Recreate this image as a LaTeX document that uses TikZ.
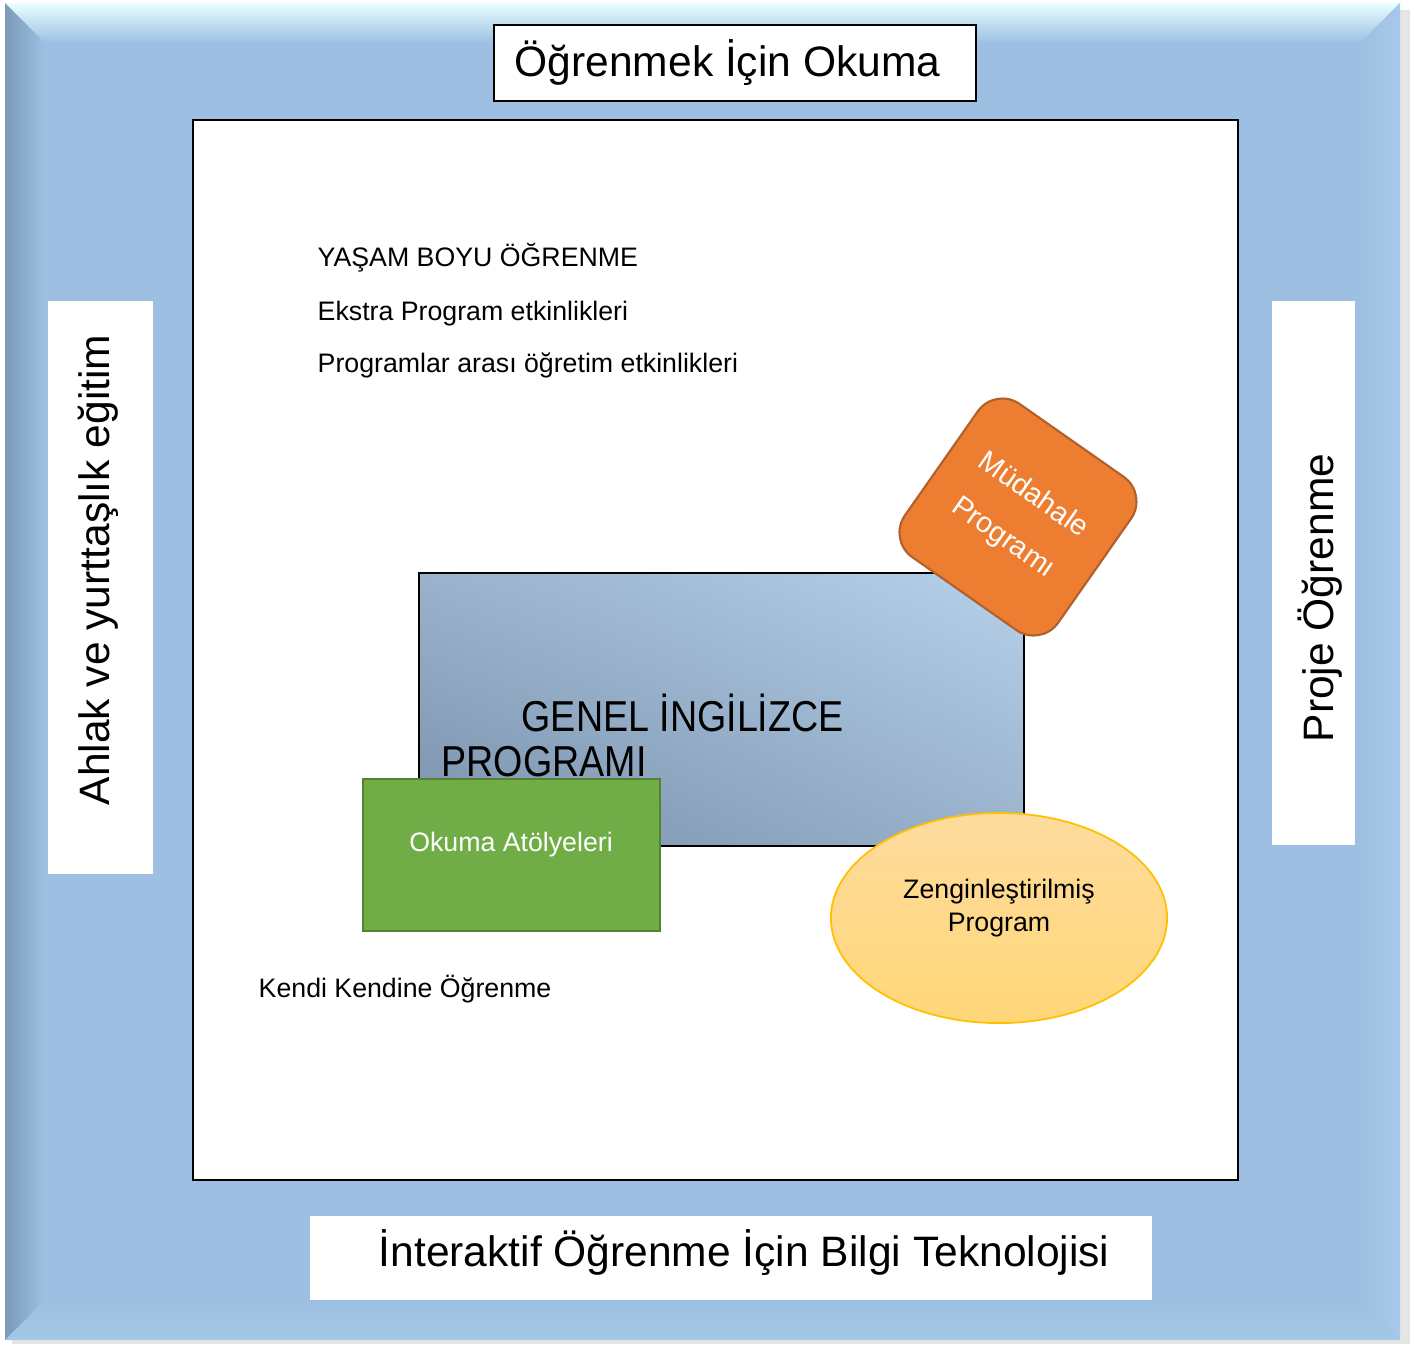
\documentclass[tikz,border=0pt]{standalone}
\usepackage{fontspec}
\setmainfont{Liberation Sans}
\newfontfamily\narrowsans[FakeStretch=0.87]{Liberation Sans}
\usetikzlibrary{shapes.geometric,shadings}
\definecolor{framebl}{HTML}{9DC0E2}
\definecolor{topbev}{HTML}{E8FFFF}
\definecolor{leftbev}{HTML}{7B99B8}
\definecolor{rightbev}{HTML}{A6C9E9}
\definecolor{botbev}{HTML}{A4C7E8}
\definecolor{genellight}{HTML}{B6D1EB}
\definecolor{genelmid}{HTML}{9AB2CB}
\definecolor{geneldark}{HTML}{7890AA}
\definecolor{orangefill}{HTML}{ED7D31}
\definecolor{orangeline}{HTML}{B0602A}
\definecolor{greenfill}{HTML}{70AD47}
\definecolor{greenline}{HTML}{548235}
\definecolor{ellipsetop}{HTML}{FDDB9D}
\definecolor{ellipsebot}{HTML}{FFD778}
\definecolor{ellipseline}{HTML}{FFC000}
\begin{document}
\begin{tikzpicture}[x=0.01cm,y=-0.01cm,
    bigtext/.style={font=\fontsize{12.1}{14.5}\selectfont, inner sep=0pt},
    smalltext/.style={font=\fontsize{7.6}{9.4}\selectfont, inner sep=0pt},
    whitebox/.style={fill=white, inner sep=0pt}]
    \useasboundingbox (0,0) rectangle (1414,1344);
    %Frame%
    \fill[black!10] (12,10) rectangle (1410,1344);
    \fill[framebl] (5,3) rectangle (1400,1340);
    \shade[top color=topbev, bottom color=framebl] (5,3) -- (1400,3) -- (1360,43) -- (45,43) -- cycle;
    \shade[left color=leftbev, right color=framebl] (5,3) -- (45,43) -- (45,1300) -- (5,1340) -- cycle;
    \shade[left color=framebl, right color=rightbev] (1360,43) -- (1400,3) -- (1400,1340) -- (1360,1300) -- cycle;
    \shade[top color=framebl, bottom color=botbev] (45,1300) -- (1360,1300) -- (1400,1340) -- (5,1340) -- cycle;
    \draw[fill=white, line width=0.5pt] (193,120) rectangle (1238,1180);

    % Side boxes %
    \node[whitebox, draw=black, line width=0.5pt, minimum width=4.82cm, minimum height=0.76cm] (okumabox) at (735,63) {};
    \node[bigtext, anchor=base west] (okumatitle) at (514,76) {Öğrenmek İçin Okuma};
    \node[whitebox, minimum width=8.42cm, minimum height=0.84cm] (bilgibox) at (731,1258) {};
    \node[bigtext, anchor=base west] (bilgi) at (378,1266) {İnteraktif Öğrenme İçin Bilgi Teknolojisi};
    \node[whitebox, minimum width=1.05cm, minimum height=5.73cm] (ahlakbox) at (100.5,587.5) {};
    \node[bigtext, rotate=90] (ahlak) at (98,570) {Ahlak ve yurttaşlık eğitim};
    \node[whitebox, minimum width=0.83cm, minimum height=5.44cm] (projebox) at (1313.5,573) {};
    \node[bigtext, rotate=90] (proje) at (1320,598) {Proje Öğrenme};

    % Texts %
    \node[smalltext, anchor=base west] (yasam) at (317,266) {YAŞAM BOYU ÖĞRENME};
    \node[smalltext, anchor=base west] (ekstra) at (317,320) {Ekstra Program etkinlikleri};
    \node[smalltext, anchor=base west] (arasi) at (317,372) {Programlar arası öğretim etkinlikleri};
    \node[smalltext, anchor=base west] (kendi) at (258,997) {Kendi Kendine Öğrenme};

    % Programs %
    \node[draw=black, line width=0.7pt, lower left=geneldark, upper right=genellight,
        upper left=genelmid, lower right=genelmid,
        minimum width=6.05cm, minimum height=2.73cm] (genel) at (721.5,709.5) {};
    \node[anchor=base west, inner sep=0pt, font=\narrowsans\fontsize{12.3}{14.8}\selectfont] (genel1) at (521,731) {GENEL İNGİLİZCE};
    \node[anchor=base west, inner sep=0pt, font=\narrowsans\fontsize{12.3}{14.8}\selectfont] (genel2) at (441,776) {PROGRAMI};
    \node[fill=orangefill, draw=orangeline, line width=0.6pt, rounded corners=0.3cm, minimum size=1.87cm,
        rotate=-35, text=white, align=center, font=\fontsize{8.2}{9.8}\selectfont] (mudahale) at (1018,517) {Müdahale\\[5pt]Programı};
    \node[fill=greenfill, draw=greenline, line width=0.8pt, minimum width=2.97cm, minimum height=1.52cm] (okuma) at (511.5,855) {};
    \node[smalltext, text=white] (okumatext) at (511,845) {Okuma Atölyeleri};
    \node[ellipse, top color=ellipsetop, bottom color=ellipsebot, draw=ellipseline, line width=0.5pt,
        minimum width=3.36cm, minimum height=2.1cm] (zengin) at (999,918) {};
    \node[smalltext, align=center] (zengintext) at (999,908) {Zenginleştirilmiş\\Program};
\end{tikzpicture}
\end{document}
